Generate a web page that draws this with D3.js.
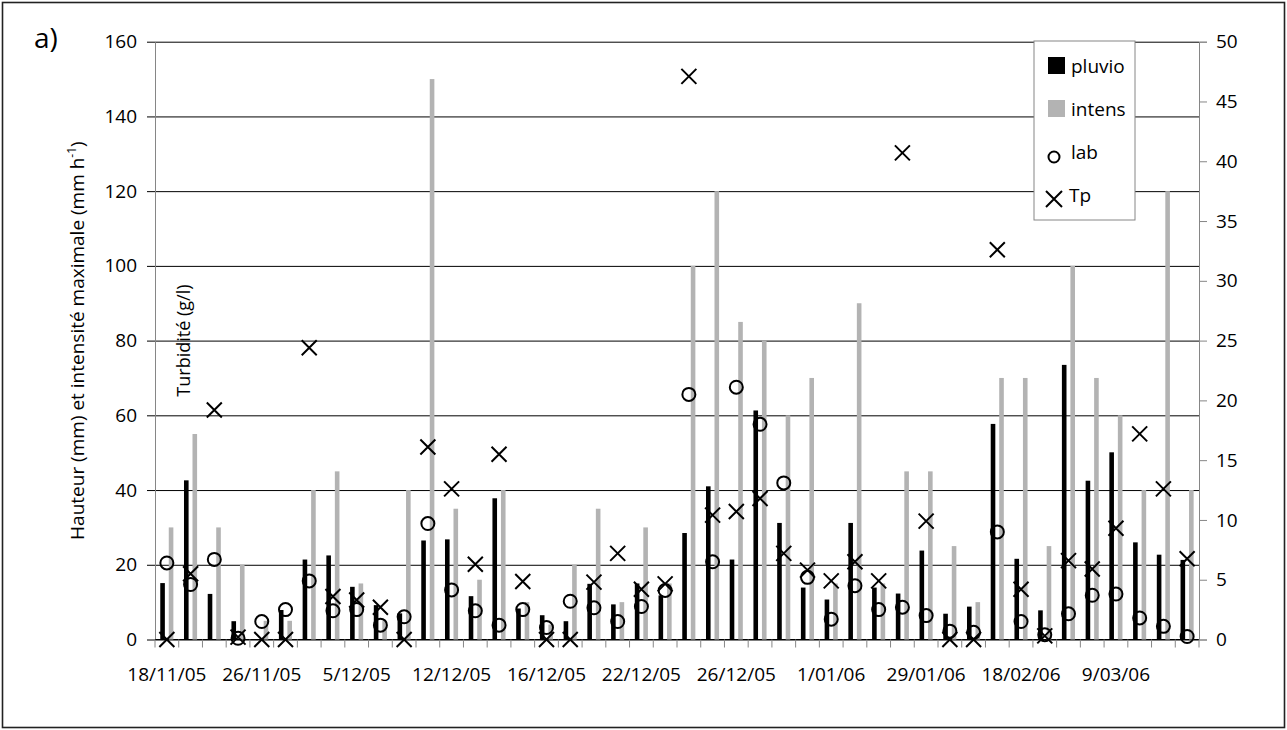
<!DOCTYPE html>
<html>
<head>
<meta charset="utf-8">
<script src="https://cdn.jsdelivr.net/npm/d3@7"></script>
<style>
  body { margin: 0; background: #fff; }
  text { font-family: "Open Sans", sans-serif; fill: #000; }
</style>
</head>
<body>
<script>
// 44 events, only every 4th one carries a date label on the axis
var tickLabels = ["18/11/05", "26/11/05", "5/12/05", "12/12/05", "16/12/05", "22/12/05",
                  "26/12/05", "1/01/06", "29/01/06", "18/02/06", "9/03/06"];
var categories = d3.range(44);

// rainfall depth (mm), left axis
var pluvio = [15.1, 42.6, 12.2, 4.9, 0, 7.9, 21.4, 22.5, 14.1, 9.2, 7, 26.5, 26.8, 11.6, 37.8,
              8.3, 6.5, 4.9, 14.9, 9.4, 15, 11.8, 28.5, 41, 21.4, 61.3, 31.2, 13.9, 10.7, 31.2,
              13.9, 12.3, 23.8, 6.9, 8.8, 57.7, 21.6, 7.8, 73.5, 42.5, 50.1, 26, 22.7, 21.3];
// max intensity (mm/h), left axis
var intens = [30, 55, 30, 20, 5, 5, 40, 45, 15, 5, 40, 150, 35, 16, 40,
              10, 4, 20, 35, 10, 30, 15, 100, 120, 85, 80, 60, 70, 15, 90,
              15, 45, 45, 25, 10, 70, 70, 25, 100, 70, 60, 40, 120, 40];
// turbidity (g/l), right axis
var lab = [6.4, 4.6, 6.7, 0.1, 1.5, 2.5, 4.9, 2.4, 2.5, 1.2, 1.9, 9.7, 4.15, 2.4, 1.2,
           2.5, 1.0, 3.2, 2.65, 1.5, 2.76, 4.1, 20.5, 6.5, 21.1, 18.0, 13.1, 5.2, 1.7, 4.5,
           2.5, 2.7, 2.0, 0.7, 0.6, 9.0, 1.5, 0.4, 2.15, 3.7, 3.8, 1.8, 1.1, 0.25];
var tp = [0, 5.5, 19.2, 0.2, 0, 0, 24.4, 3.6, 3.3, 2.7, 0, 16.1, 12.6, 6.3, 15.5,
          4.85, 0, 0, 4.8, 7.2, 4.2, 4.65, 47.1, 10.4, 10.7, 11.8, 7.2, 5.8, 4.9, 6.5,
          4.9, 40.7, 9.9, 0, 0, 32.6, 4.2, 0.3, 6.6, 5.9, 9.3, 17.2, 12.6, 6.75];

var W = 1287, H = 730;
var margin = {top: 41.7, right: 88, bottom: 90.5, left: 155},
    width = W - margin.left - margin.right,
    height = H - margin.top - margin.bottom;

var svg = d3.select("body").append("svg")
    .attr("width", W)
    .attr("height", H);

svg.append("rect")
    .attr("x", 2.5).attr("y", 2.5)
    .attr("width", W - 5).attr("height", H - 5)
    .attr("fill", "#fff")
    .attr("stroke", "#222")
    .attr("stroke-width", 1.6);

var g = svg.append("g")
    .attr("transform", "translate(" + margin.left + "," + margin.top + ")");

var x = d3.scaleBand().domain(categories).range([0, width]);
var yL = d3.scaleLinear().domain([0, 160]).range([height, 0]);
var yR = d3.scaleLinear().domain([0, 50]).range([height, 0]);
var cx = function(i) { return x(i) + x.bandwidth() / 2; };

// gridlines + left ticks
g.append("g")
    .call(d3.axisLeft(yL).tickValues(d3.range(0, 161, 20)).tickSize(-width - 8).tickFormat(""))
    .attr("transform", "translate(-8,0)")
    .call(function(s) {
      s.select(".domain").remove();
      s.selectAll("line").attr("stroke", "#000").attr("stroke-width", 1);
    });

// left axis
var ax = g.append("g")
    .call(d3.axisLeft(yL).tickValues(d3.range(0, 161, 20)).tickSize(0).tickPadding(18));
ax.select(".domain").attr("stroke", "#868686");
ax.selectAll("text").style("font-size", "19px").attr("font-family", "Open Sans");

// right axis
var axr = g.append("g")
    .attr("transform", "translate(" + width + ",0)")
    .call(d3.axisRight(yR).tickValues(d3.range(0, 51, 5)).tickSize(8).tickPadding(9));
axr.select(".domain").attr("stroke", "#868686");
axr.selectAll("line").attr("stroke", "#868686");
axr.selectAll("text").style("font-size", "19px").attr("font-family", "Open Sans");

// x axis: tick at every category boundary
var xb = g.append("g").attr("transform", "translate(0," + height + ")");
xb.append("line").attr("x1", 0).attr("x2", width).attr("stroke", "#000");
xb.selectAll("line.tk")
    .data(d3.range(45))
  .enter().append("line")
    .attr("class", "tk")
    .attr("x1", function(d) { return d * x.step(); })
    .attr("x2", function(d) { return d * x.step(); })
    .attr("y1", 0).attr("y2", 8)
    .attr("stroke", "#868686");
xb.selectAll("text")
    .data(tickLabels)
  .enter().append("text")
    .attr("x", function(d, i) { return cx(i * 4); })
    .attr("y", 41)
    .attr("text-anchor", "middle")
    .style("font-size", "19px")
    .text(function(d) { return d; });

// bars
var bw = 4.6;
g.selectAll("rect.pluvio")
    .data(pluvio)
  .enter().append("rect")
    .attr("class", "pluvio")
    .attr("x", function(d, i) { return cx(i) - 6.6; })
    .attr("width", bw)
    .attr("y", function(d) { return yL(d); })
    .attr("height", function(d) { return height - yL(d); })
    .attr("fill", "#000");

g.selectAll("rect.intens")
    .data(intens)
  .enter().append("rect")
    .attr("class", "intens")
    .attr("x", function(d, i) { return cx(i) + 1.9; })
    .attr("width", bw)
    .attr("y", function(d) { return yL(d); })
    .attr("height", function(d) { return height - yL(d); })
    .attr("fill", "#b3b3b3");

// markers
g.selectAll("circle.lab")
    .data(lab)
  .enter().append("circle")
    .attr("cx", function(d, i) { return cx(i); })
    .attr("cy", function(d) { return yR(d); })
    .attr("r", 6.5)
    .attr("fill", "none")
    .attr("stroke", "#000")
    .attr("stroke-width", 2);

var xs = 7.5;
g.selectAll("path.tp")
    .data(tp)
  .enter().append("path")
    .attr("d", function(d, i) {
      var px = cx(i), py = yR(d);
      return "M" + (px - xs) + "," + (py - xs) + "L" + (px + xs) + "," + (py + xs) +
             "M" + (px - xs) + "," + (py + xs) + "L" + (px + xs) + "," + (py - xs);
    })
    .attr("stroke", "#000")
    .attr("stroke-width", 2)
    .attr("fill", "none");

// axis titles
var t = svg.append("text")
    .attr("transform", "translate(84," + (margin.top + height / 2) + ") rotate(-90)")
    .attr("text-anchor", "middle")
    .style("font-size", "19px");
t.append("tspan").text("Hauteur (mm) et intensité maximale (mm h");
t.append("tspan").attr("baseline-shift", "super").style("font-size", "12px").text("-1");
t.append("tspan").text(")");

svg.append("text")
    .attr("transform", "translate(190," + (margin.top + height / 2) + ") rotate(-90)")
    .attr("text-anchor", "middle")
    .style("font-size", "18px")
    .text("Turbidité (g/l)");

svg.append("text")
    .attr("x", 34).attr("y", 48)
    .style("font-size", "28px")
    .text("a)");

// legend
var lg = svg.append("g").attr("transform", "translate(1034,41)");
lg.append("rect")
    .attr("width", 101).attr("height", 179)
    .attr("fill", "#fff").attr("stroke", "#868686");
lg.append("rect").attr("x", 14).attr("y", 16).attr("width", 17).attr("height", 17).attr("fill", "#000");
lg.append("rect").attr("x", 14).attr("y", 59).attr("width", 17).attr("height", 17).attr("fill", "#b3b3b3");
lg.append("circle").attr("cx", 20).attr("cy", 116).attr("r", 5.5)
    .attr("fill", "none").attr("stroke", "#000").attr("stroke-width", 2);
lg.append("path").attr("d", "M12,150L28,166M12,166L28,150")
    .attr("stroke", "#000").attr("stroke-width", 2);
lg.selectAll("text.lgt")
    .data(["pluvio", "intens", "lab", "Tp"])
  .enter().append("text")
    .attr("x", function(d, i) { return i === 3 ? 35 : 37; })
    .attr("y", function(d, i) { return 25 + i * 43; })
    .attr("dy", "0.35em")
    .style("font-size", "19px")
    .text(function(d) { return d; });
</script>
</body>
</html>
